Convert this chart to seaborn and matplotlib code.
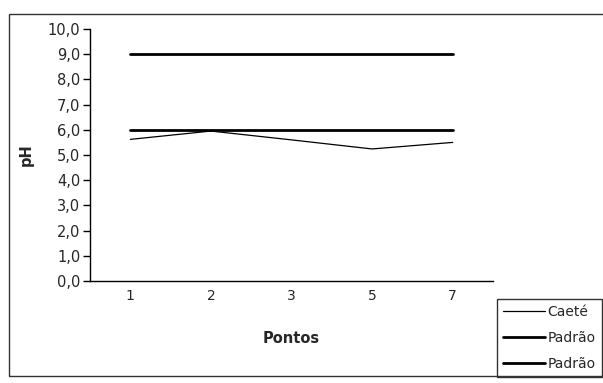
import numpy as np
import pandas as pd
import matplotlib
matplotlib.use("Agg")
import matplotlib.pyplot as plt
import matplotlib.patches as mpatches
import seaborn as sns

pontos = ["1", "2", "3", "5", "7"]
caete = [5.62, 5.95, 5.6, 5.24, 5.5]
padrao_max = [9.0, 9.0, 9.0, 9.0, 9.0]
padrao_min = [6.0, 6.0, 6.0, 6.0, 6.0]
yticks = np.arange(0, 10.5, 1.0)

sns.set_theme(style="white")
plt.rcParams['font.family'] = ['DejaVu Sans']

fig = plt.figure(figsize=(6.03, 3.83), dpi=100)
ax = fig.add_axes([90/603, 1 - 281/383, (493 - 90)/603, (281 - 29)/383])

df = pd.DataFrame({"Pontos": pontos, "Caeté": caete,
                   "Padrão max": padrao_max, "Padrão min": padrao_min})
sns.lineplot(data=df, x="Pontos", y="Caeté", ax=ax, color="black", lw=0.9,
             label="Caeté", sort=False)
sns.lineplot(data=df, x="Pontos", y="Padrão max", ax=ax, color="black", lw=2,
             label="Padrão", sort=False)
sns.lineplot(data=df, x="Pontos", y="Padrão min", ax=ax, color="black", lw=2,
             label="Padrão", sort=False)

ax.set_xlim(-0.5, len(pontos) - 0.5)
ax.set_ylim(0, 10)
ax.set_yticks(yticks)
ax.set_yticklabels([f"{v:.1f}".replace(".", ",") for v in yticks], fontsize=10.5)
ax.set_xticks(np.arange(len(pontos)) - 0.5)
ax.set_xticklabels([])
ax.set_xticks(np.arange(len(pontos)), minor=True)
ax.set_xticklabels(pontos, minor=True, fontsize=10)
ax.tick_params(axis="x", which="major", direction="in", length=4, width=1, color="black")
ax.tick_params(axis="x", which="minor", length=0, pad=6)
ax.tick_params(axis="y", direction="out", length=5, width=1, color="black", pad=2, left=True)

for s in ["top", "right"]:
    ax.spines[s].set_visible(False)
for s in ["left", "bottom"]:
    ax.spines[s].set_color("black")
    ax.spines[s].set_linewidth(1)

ax.set_xlabel("Pontos", fontsize=10.5, fontweight="bold", labelpad=20)
ax.set_ylabel("pH", fontsize=10.5, fontweight="bold", labelpad=10)

ax.legend(loc="upper left", bbox_to_anchor=(497/603, 1 - 299/383),
          bbox_transform=fig.transFigure, frameon=True, fancybox=False,
          edgecolor="black", fontsize=10, handlelength=3, handletextpad=0.2,
          borderaxespad=0, borderpad=0.45, labelspacing=0.85)
ax.get_legend().get_frame().set_linewidth(1)

fig.add_artist(mpatches.Rectangle((9/603, 1 - 376/383), 0.99, (376 - 14)/383,
                                  transform=fig.transFigure, fill=False,
                                  edgecolor="#333333", lw=1))

fig.savefig("out.png", dpi=100)
